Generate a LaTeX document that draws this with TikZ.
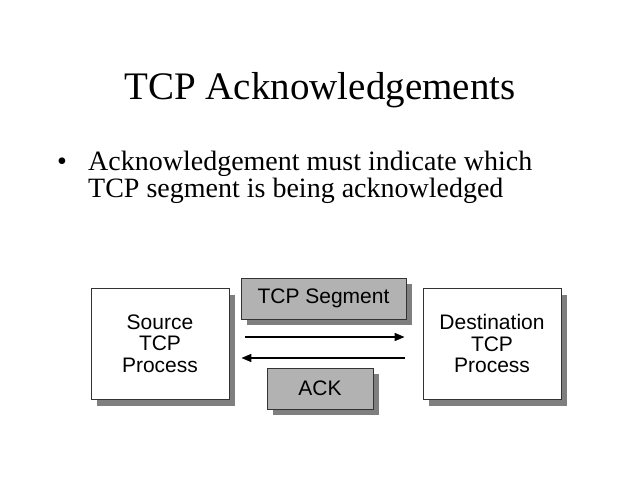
\documentclass[tikz,border=0pt]{standalone}
\usepackage{fontspec}
\setmainfont{Liberation Serif}
\newfontfamily\boxfont{Liberation Sans}
\usetikzlibrary{arrows.meta,shadows}
\definecolor{boxgray}{HTML}{B2B2B2}
\definecolor{shadowgray}{HTML}{7F7F7F}
\definecolor{edgegray}{HTML}{333333}
\begin{document}
\begin{tikzpicture}[x=1pt,y=-1pt,
  procbox/.style={draw=edgegray, line width=0.8pt, fill=white, rectangle, minimum width=138pt, minimum height=111pt, inner sep=0pt, align=center,
    font=\boxfont\fontsize{21}{21.5}\selectfont,
    drop shadow={shadow xshift=6pt, shadow yshift=-7pt, fill=shadowgray, opacity=1}},
  msgbox/.style={draw=edgegray, line width=0.8pt, fill=boxgray, rectangle, minimum height=41pt, inner sep=0pt, align=center,
    font=\boxfont\fontsize{21}{21.5}\selectfont,
    drop shadow={shadow xshift=6pt, shadow yshift=-6pt, fill=shadowgray, opacity=1}},
  msgarrow/.style={line width=1.5pt, -{Triangle[length=10pt,width=8pt]}},
  titletext/.style={font=\fontsize{39}{48}\selectfont, anchor=base, inner sep=0pt},
  bodytext/.style={font=\fontsize{28}{27}\selectfont, anchor=base west, inner sep=0pt}
]
\useasboundingbox[fill=white] (0,0) rectangle (640,480);
\node[titletext] (title) at (320,99) {TCP Acknowledgements};
\node[bodytext] (bullet) at (57,170) {•};
\node[bodytext] (line1) at (88,170) {Acknowledgement must indicate which};
\node[bodytext] (line2) at (88,197) {TCP segment is being acknowledged};
\node[procbox] (src) at (160,343.5) {Source\\TCP\\Process};
\node[procbox] (dst) at (492,343.5) {Destination\\TCP\\Process};
\node[msgbox, minimum width=165pt] (seg) at (323.5,298.5) {TCP Segment};
\node[msgbox, minimum width=106pt] (ack) at (320,388.5) {ACK};
\draw[msgarrow, shorten <=16pt, shorten >=18pt] ([yshift=6.5pt]src.east) -- ([yshift=6.5pt]dst.west);
\draw[msgarrow, shorten <=18pt, shorten >=12pt] ([yshift=-14.5pt]dst.west) -- ([yshift=-14.5pt]src.east);
\end{tikzpicture}
\end{document}
